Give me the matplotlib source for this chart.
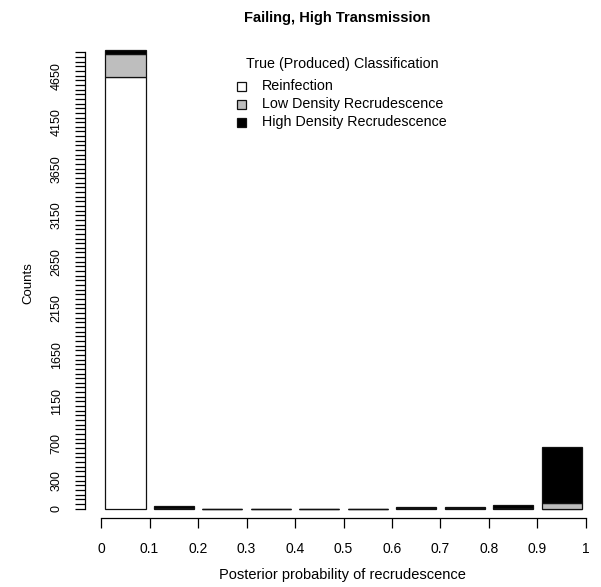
import numpy as np
import matplotlib
matplotlib.use("Agg")
import matplotlib.pyplot as plt
from matplotlib.patches import Rectangle

plt.rcParams['font.family'] = ['Liberation Sans', 'DejaVu Sans']

# Posterior probability bins (0-0.1, 0.1-0.2, ..., 0.9-1)
bin_left = [0.0, 0.1, 0.2, 0.3, 0.4, 0.5, 0.6, 0.7, 0.8, 0.9]
x_tick_values = [0, 0.1, 0.2, 0.3, 0.4, 0.5, 0.6, 0.7, 0.8, 0.9, 1]
x_tick_labels = ["0", "0.1", "0.2", "0.3", "0.4", "0.5", "0.6", "0.7", "0.8", "0.9", "1"]

# Counts per bin for each true classification
reinfection = [4640, 1, 0, 0, 0, 0, 1, 1, 1, 0]
low_density = [240, 2, 0, 0, 0, 0, 3, 3, 4, 59]
high_density = [43, 20, 0, 0, 0, 0, 15, 15, 32, 600]

y_tick_values = list(range(0, 4901, 50))
y_labelled = [0, 300, 700, 1150, 1650, 2150, 2650, 3150, 3650, 4150, 4650]

series = [("Reinfection", reinfection, "white"),
          ("Low Density Recrudescence", low_density, "#BEBEBE"),
          ("High Density Recrudescence", high_density, "black")]

W, H = 601, 587
fig = plt.figure(figsize=(W / 100, H / 100), dpi=100)

ax_left, ax_right, ax_bottom, ax_top = 85, 601, 518, 30
ax = fig.add_axes([ax_left / W, (H - ax_bottom) / H,
                   (ax_right - ax_left) / W, (ax_bottom - ax_top) / H])

# Each bar fills 1/1.2 of its bin, like base-R barplot spacing
bar_w = 0.1 / 1.2
centers = np.array(bin_left) + 0.05
bottom = np.zeros(len(bin_left))
for name, vals, col in series:
    ax.bar(centers, vals, width=bar_w, bottom=bottom, color=col,
           edgecolor="#111111", linewidth=0.9)
    bottom += np.array(vals)

ax.set_xlim(-0.0331, 1.0310)
ax.set_ylim(-102, 5140)
ax.patch.set_alpha(0)

for s in ["top", "right"]:
    ax.spines[s].set_visible(False)
ax.spines["left"].set_bounds(0, 4900)
ax.spines["bottom"].set_bounds(0, 1)
ax.spines["left"].set_linewidth(0.9)
ax.spines["bottom"].set_linewidth(0.9)

ax.set_xticks(x_tick_values)
ax.set_xticklabels(x_tick_labels, fontsize=10)
ax.tick_params(axis="x", length=7, width=0.9, pad=10)

ax.set_yticks(y_tick_values)
ax.set_yticklabels([str(v) if v in y_labelled else "" for v in y_tick_values],
                   fontsize=9, rotation=90, va="center")
ax.tick_params(axis="y", length=7, width=0.9, pad=9)

fig.text(337 / W, 1 - 18 / H, "Failing, High Transmission",
         ha="center", va="center", fontsize=10.5, fontweight="bold")
fig.text(342 / W, 1 - 575 / H, "Posterior probability of recrudescence",
         ha="center", va="center", fontsize=10.5)
fig.text(28 / W, 1 - 283 / H, "Counts", ha="center", va="center",
         fontsize=9.5, rotation=90)

# Legend
fig.text(342 / W, 1 - 64 / H, "True (Produced) Classification",
         ha="center", va="center", fontsize=10.3)
leg_y = [86, 104, 122]
for (name, vals, col), yy in zip(series, leg_y):
    fig.patches.append(Rectangle(((242 - 5) / W, 1 - (yy + 5) / H),
                                 9 / W, 9 / H, transform=fig.transFigure,
                                 facecolor=col, edgecolor="#111111",
                                 linewidth=0.9))
    fig.text(262 / W, 1 - yy / H, name, ha="left", va="center", fontsize=10.3)

fig.savefig("out.png", dpi=100)
